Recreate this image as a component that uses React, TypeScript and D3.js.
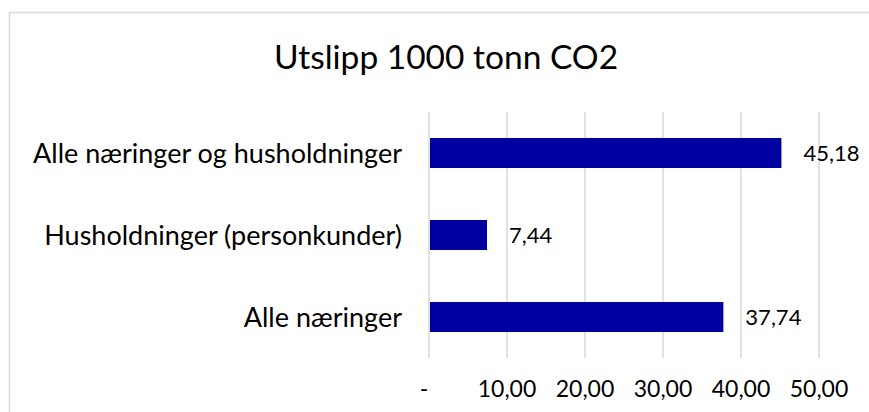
import * as d3 from "d3";
import { useEffect, useRef } from "react";

const title = "Utslipp 1000 tonn CO2";
const categories = [
  "Alle næringer og husholdninger",
  "Husholdninger (personkunder)",
  "Alle næringer",
];
const values = [45.18, 7.44, 37.74];
const tickValues = [0, 10, 20, 30, 40, 50];

const fmt = (v: number) => (v === 0 ? "-" : d3.format(".2f")(v).replace(".", ","));

export default function App() {
  const ref = useRef<SVGSVGElement>(null);

  useEffect(() => {
    const svg = d3.select(ref.current);
    svg.selectAll("*").remove();

    const width = 869;
    const height = 412;
    const font = "Lato, 'Open Sans', sans-serif";

    // chart frame (cut off at right/bottom like the screenshot)
    svg
      .append("rect")
      .attr("x", 9.5)
      .attr("y", 12.5)
      .attr("width", width + 20)
      .attr("height", height + 20)
      .attr("fill", "#fff")
      .attr("stroke", "#d9d9d9")
      .attr("stroke-width", 1.5);

    svg
      .append("text")
      .attr("x", 446)
      .attr("y", 69)
      .attr("text-anchor", "middle")
      .attr("font-family", font)
      .attr("font-size", 33.5)
      .attr("fill", "#000")
      .text(title);

    const x = d3.scaleLinear().domain([0, 50]).range([429, 819]);
    const y = d3
      .scaleBand()
      .domain(categories)
      .range([112, 358])
      .paddingInner(0.634)
      .paddingOuter(0.317);

    // gridlines
    svg
      .append("g")
      .selectAll("line")
      .data(tickValues)
      .enter()
      .append("line")
      .attr("x1", (d) => x(d))
      .attr("x2", (d) => x(d))
      .attr("y1", 112)
      .attr("y2", 358)
      .attr("stroke", "#d9d9d9")
      .attr("stroke-width", 1.5);

    // bars
    svg
      .append("g")
      .selectAll("rect")
      .data(values)
      .enter()
      .append("rect")
      .attr("x", x(0) + 1)
      .attr("y", (d, i) => y(categories[i])!)
      .attr("width", (d) => x(d) - x(0) - 1)
      .attr("height", y.bandwidth())
      .attr("fill", "#0000a0");

    // value labels
    svg
      .append("g")
      .selectAll("text")
      .data(values)
      .enter()
      .append("text")
      .attr("x", (d) => x(d) + 22)
      .attr("y", (d, i) => y(categories[i])! + y.bandwidth() / 2)
      .attr("dy", "0.36em")
      .attr("font-family", font)
      .attr("font-size", 22)
      .attr("fill", "#000")
      .text((d) => fmt(d));

    // category labels
    svg
      .append("g")
      .selectAll("text")
      .data(categories)
      .enter()
      .append("text")
      .attr("x", 402)
      .attr("y", (d) => y(d)! + y.bandwidth() / 2)
      .attr("dy", "0.36em")
      .attr("text-anchor", "end")
      .attr("font-family", font)
      .attr("font-size", 27)
      .attr("fill", "#000")
      .text((d) => d);

    // x axis tick labels
    svg
      .append("g")
      .selectAll("text")
      .data(tickValues)
      .enter()
      .append("text")
      .attr("x", (d) => (d === 0 ? x(d) - 5 : x(d)))
      .attr("y", 397)
      .attr("text-anchor", "middle")
      .attr("font-family", font)
      .attr("font-size", 23)
      .attr("fill", "#000")
      .text((d) => fmt(d));
  }, []);

  return (
    <svg
      ref={ref}
      width={869}
      height={412}
      style={{ position: "absolute", left: 0, top: 0 }}
    />
  );
}
